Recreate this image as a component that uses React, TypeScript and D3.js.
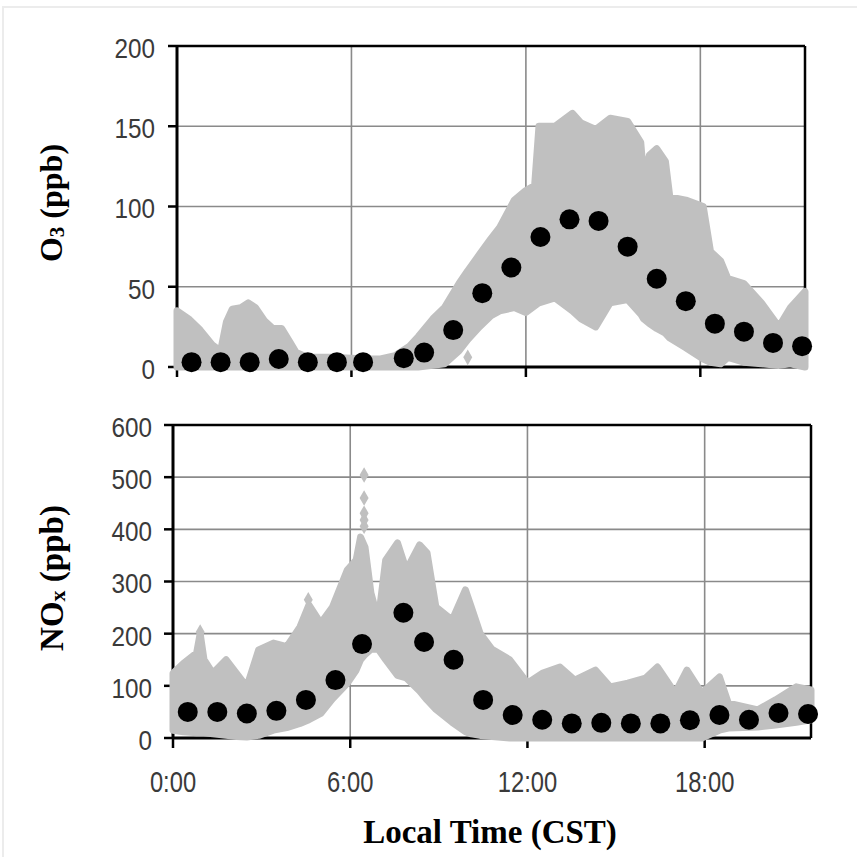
import React from 'react';
import * as d3 from 'd3';

// ---- Data ----
const meanHours = [0.5, 1.5, 2.5, 3.5, 4.5, 5.5, 6.4, 7.8, 8.5, 9.5, 10.5, 11.5, 12.5, 13.5, 14.5, 15.5, 16.5, 17.5, 18.5, 19.5, 20.5, 21.5];
const o3Mean = [3, 3, 3, 5, 3, 3, 3, 5.5, 9, 23, 46, 62, 81, 92, 91, 75, 55, 41, 27, 22, 15, 13];
const noxMean = [50, 50, 47, 52, 73, 111, 180, 240, 184, 150, 73, 44, 35, 28, 29, 28, 28, 34, 44, 35, 48, 46];

// gray cloud envelope (all individual observations), O3
const o3Time = [0, 0.4, 0.8, 1.2, 1.5, 1.7, 1.9, 2.2, 2.45, 2.7, 3.0, 3.3, 3.6, 3.9, 4.1, 4.5, 5.5, 6.5, 7.0, 7.5, 8.0, 8.3, 8.8, 9.2, 9.7, 10.0, 10.4, 10.8, 11.1, 11.6, 12.0, 12.3, 12.45, 13.0, 13.6, 13.9, 14.4, 14.9, 15.5, 15.95, 16.05, 16.25, 16.5, 16.8, 16.95, 17.5, 18.1, 18.35, 18.7, 18.95, 19.5, 20.1, 20.7, 21.1, 21.6];
const o3High = [35, 30, 23, 14, 10, 28, 36, 37, 40, 37, 29, 24, 24, 15, 9, 6, 6, 5, 5, 7, 13, 19, 30, 37, 52, 60, 70, 80, 87, 104, 110, 113, 150, 150, 158, 152, 148, 155, 153, 140, 118, 132, 136, 128, 106, 104, 100, 72, 66, 55, 52, 40, 25, 37, 47];
const o3Low = [0, 0, 0, 0, 0, 0, 0, 0, 0, 0, 0, 0, 0, 0, 0, 0, 0, 0, 0, 0, 0, 0, 1, 2, 10, 17, 25, 32, 35, 37, 34, 38, 40, 43, 35, 30, 25, 40, 42, 33, 30, 27, 24, 21, 18, 12, 5, 3, 2, 6, 3, 2, 1, 2, 0];
const o3OutT = [10.0];
const o3OutV = [6];

// gray cloud envelope, NOx
const noxTime = [0, 0.35, 0.8, 0.92, 1.05, 1.35, 1.8, 2.15, 2.5, 2.9, 3.4, 3.85, 4.3, 4.6, 5.0, 5.4, 5.9, 6.2, 6.35, 6.5, 6.7, 6.95, 7.2, 7.6, 7.9, 8.35, 8.6, 8.9, 9.45, 9.9, 10.1, 10.4, 10.8, 11.4, 12.0, 12.5, 13.1, 13.6, 14.3, 14.8, 15.4, 16.0, 16.4, 17.0, 17.4, 17.9, 18.5, 18.8, 19.8, 20.4, 21.1, 21.6];
const noxHigh = [124, 143, 163, 200, 150, 124, 150, 124, 98, 169, 182, 175, 213, 255, 220, 251, 322, 341, 385, 366, 278, 226, 341, 374, 322, 370, 355, 251, 226, 284, 251, 200, 170, 150, 105, 124, 136, 111, 130, 98, 105, 115, 136, 86, 130, 86, 117, 67, 54, 73, 98, 92];
const noxLow = [15, 12, 10, 10, 10, 8, 5, 3, 2, 5, 15, 20, 28, 35, 47, 75, 105, 130, 150, 160, 170, 170, 150, 120, 115, 90, 73, 55, 30, 12, 8, 5, 3, 0, 0, 0, 0, 0, 0, 0, 0, 0, 0, 0, 0, 0, 15, 19, 21, 25, 30, 35];
const noxOutT = [6.47, 6.47, 6.47, 6.47, 6.47, 4.58, 0.92];
const noxOutV = [504, 460, 431, 418, 406, 265, 203];

const xTickHours = [0, 6, 12, 18];
const xTickLabels = ['0:00', '6:00', '12:00', '18:00'];
const o3Ticks = [0, 50, 100, 150, 200];
const noxTicks = [0, 100, 200, 300, 400, 500, 600];

const GRAY = '#c0c0c0';
const TICK_FONT = '"Liberation Sans", Arial, sans-serif';
const LABEL_FONT = '"Liberation Serif", "Times New Roman", serif';

type PanelProps = {
  box: { x0: number; x1: number; y0: number; y1: number };
  yMax: number;
  yTicks: number[];
  time: number[];
  hi: number[];
  lo: number[];
  outT: number[];
  outV: number[];
  mean: number[];
  tickLabelX: number;
  showXLabels: boolean;
};

function Panel({ box, yMax, yTicks, time, hi, lo, outT, outV, mean, tickLabelX, showXLabels }: PanelProps) {
  const x = d3.scaleLinear().domain([0, 21.6]).range([box.x0, box.x1]);
  const y = d3.scaleLinear().domain([0, yMax]).range([box.y1, box.y0]);
  const cloud = time.map((t, i) => ({ t, hi: hi[i], lo: lo[i] }));
  const area = d3
    .area<{ t: number; hi: number; lo: number }>()
    .x((d) => x(d.t))
    .y0((d) => y(d.lo))
    .y1((d) => y(d.hi));
  const diamond = d3.symbol().type(d3.symbolDiamond).size(70)();
  return (
    <g>
      {/* gridlines */}
      {yTicks.slice(1, -1).map((v) => (
        <line key={'gy' + v} x1={box.x0} x2={box.x1} y1={y(v)} y2={y(v)} stroke="#8a8a8a" strokeWidth={1.6} />
      ))}
      {xTickHours.slice(1).map((h) => (
        <line key={'gx' + h} x1={x(h)} x2={x(h)} y1={box.y0} y2={box.y1} stroke="#8a8a8a" strokeWidth={1.6} />
      ))}
      {/* frame */}
      <line x1={box.x0} x2={box.x1} y1={box.y0} y2={box.y0} stroke="#000" strokeWidth={2.5} />
      <line x1={box.x1} x2={box.x1} y1={box.y0} y2={box.y1} stroke="#000" strokeWidth={2.5} />
      <line x1={box.x0} x2={box.x0} y1={box.y0 - 1} y2={box.y1 + 1} stroke="#000" strokeWidth={3} />
      <line x1={box.x0} x2={box.x1} y1={box.y1} y2={box.y1} stroke="#000" strokeWidth={3} />
      {/* y ticks */}
      {yTicks.map((v) => (
        <g key={'ty' + v}>
          <line x1={box.x0 - 9} x2={box.x0} y1={y(v)} y2={y(v)} stroke="#000" strokeWidth={2.5} />
          <text
            transform={`translate(${tickLabelX},${y(v) + 2.5}) scale(0.9,1)`}
            textAnchor="end"
            dominantBaseline="central"
            fontFamily={TICK_FONT}
            fontSize={27}
            fill="#3a3a3a"
          >
            {v}
          </text>
        </g>
      ))}
      {/* x ticks */}
      {xTickHours.map((h, i) => (
        <g key={'tx' + h}>
          <line x1={x(h)} x2={x(h)} y1={box.y1} y2={box.y1 + 10} stroke="#000" strokeWidth={2.5} />
          {showXLabels && (
            <text
              transform={`translate(${x(h)},${box.y1 + 44}) scale(0.82,1)`}
              textAnchor="middle"
              dominantBaseline="central"
              fontFamily={TICK_FONT}
              fontSize={29}
              fill="#3a3a3a"
            >
              {xTickLabels[i]}
            </text>
          )}
        </g>
      ))}
      {/* gray cloud of observations */}
      <path d={area(cloud) || ''} fill={GRAY} stroke={GRAY} strokeWidth={7} strokeLinejoin="round" />
      {outT.map((t, i) => (
        <path key={'o' + i} d={diamond || ''} transform={`translate(${x(t)},${y(outV[i])})`} fill={GRAY} />
      ))}
      {/* hourly means */}
      {meanHours.map((h, i) => (
        <circle key={'m' + i} cx={x(h)} cy={y(mean[i])} r={10} fill="#000" />
      ))}
    </g>
  );
}

export default function App() {
  return (
    <svg
      width={857}
      height={857}
      viewBox="0 0 857 857"
      style={{ position: 'absolute', left: 0, top: 0, background: '#fff' }}
    >
      <rect x={0} y={0} width={857} height={857} fill="#fff" />
      <rect x={3} y={7} width={900} height={900} fill="none" stroke="#ececec" strokeWidth={2} />
      <Panel
        box={{ x0: 177, x1: 805, y0: 46, y1: 367 }}
        yMax={200}
        yTicks={o3Ticks}
        time={o3Time}
        hi={o3High}
        lo={o3Low}
        outT={o3OutT}
        outV={o3OutV}
        mean={o3Mean}
        tickLabelX={155}
        showXLabels={false}
      />
      <Panel
        box={{ x0: 173, x1: 811, y0: 425, y1: 738 }}
        yMax={600}
        yTicks={noxTicks}
        time={noxTime}
        hi={noxHigh}
        lo={noxLow}
        outT={noxOutT}
        outV={noxOutV}
        mean={noxMean}
        tickLabelX={152}
        showXLabels={true}
      />
      <text
        transform="translate(62,203) rotate(-90)"
        textAnchor="middle"
        fontFamily={LABEL_FONT}
        fontWeight="bold"
        fontSize={32}
        fill="#000"
      >
        O<tspan fontSize={21} dy={2}>3</tspan>
        <tspan dy={-2}> (ppb)</tspan>
      </text>
      <text
        transform="translate(63,578) rotate(-90)"
        textAnchor="middle"
        fontFamily={LABEL_FONT}
        fontWeight="bold"
        fontSize={33}
        fill="#000"
      >
        NO<tspan fontSize={22} dy={2}>x</tspan>
        <tspan dy={-2}> (ppb)</tspan>
      </text>
      <text x={490} y={843} textAnchor="middle" fontFamily={LABEL_FONT} fontWeight="bold" fontSize={33} fill="#000">
        Local Time (CST)
      </text>
    </svg>
  );
}
